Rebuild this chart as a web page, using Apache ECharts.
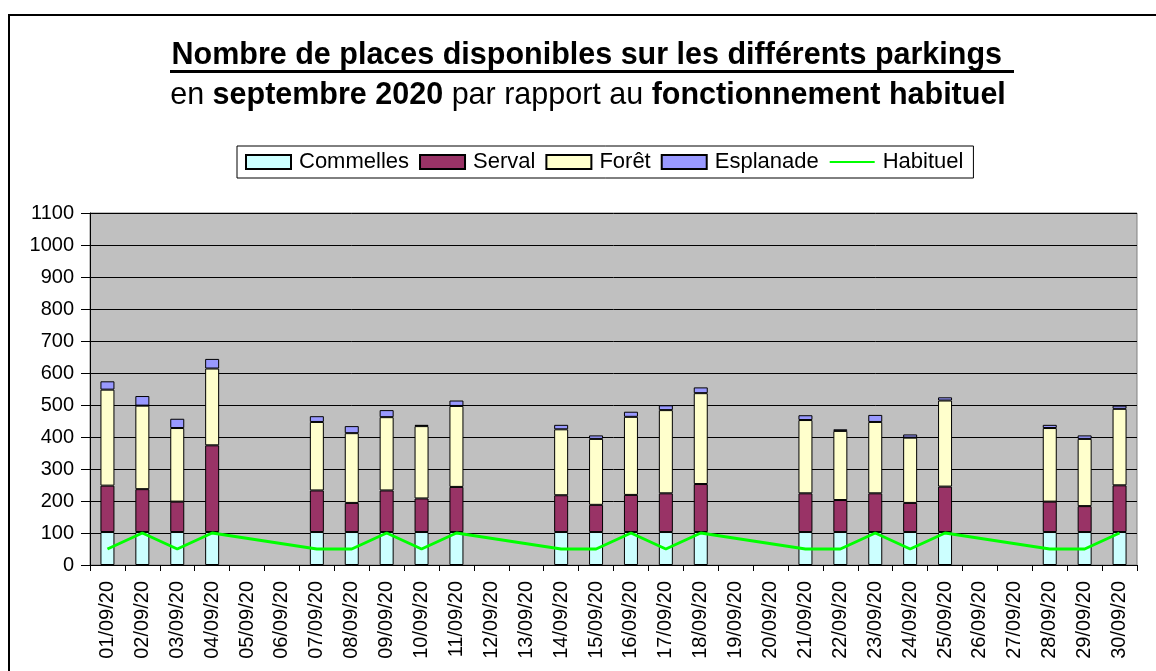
<!DOCTYPE html>
<html>
<head>
<meta charset="utf-8">
<script src="https://cdn.jsdelivr.net/npm/echarts@6/dist/echarts.min.js"></script>
<style>
  html, body { margin: 0; padding: 0; background: #fff; }
  #chart { width: 1156px; height: 671px; }
</style>
</head>
<body>
<div id="chart"></div>
<script>
const days = ['01/09/20', '02/09/20', '03/09/20', '04/09/20', '05/09/20', '06/09/20', '07/09/20', '08/09/20', '09/09/20', '10/09/20',
  '11/09/20', '12/09/20', '13/09/20', '14/09/20', '15/09/20', '16/09/20', '17/09/20', '18/09/20', '19/09/20', '20/09/20',
  '21/09/20', '22/09/20', '23/09/20', '24/09/20', '25/09/20', '26/09/20', '27/09/20', '28/09/20', '29/09/20', '30/09/20']

const commelles = [103, 103, 103, 103, '-', '-', 103, 103, 103, 103, 103, '-', '-', 103, 103, 103, 103, 103, '-', '-',
  103, 103, 103, 103, 103, '-', '-', 103, 103, 103]
const serval = [145, 134, 95, 271, '-', '-', 130, 91, 130, 105, 141, '-', '-', 115, 85, 116, 121, 150, '-', '-',
  121, 100, 121, 91, 142, '-', '-', 95, 81, 146]
const foret = [300, 261, 230, 240, '-', '-', 214, 218, 229, 226, 253, '-', '-', 206, 206, 244, 260, 284, '-', '-',
  229, 216, 223, 204, 269, '-', '-', 230, 210, 239]
const esplanade = [26, 30, 29, 30, '-', '-', 18, 22, 22, 4, 17, '-', '-', 14, 11, 16, 15, 18, '-', '-',
  15, 5, 22, 10, 10, '-', '-', 10, 11, 10]
const habituel = [50, 100, 50, 100, null, null, 50, 50, 100, 50, 100, null, null, 50, 50, 100, 50, 100, null, null,
  50, 50, 100, 50, 100, null, null, 50, 50, 100]

const font = 'Liberation Sans, Arial, sans-serif'
const titleSize = 30.5

function barSeries(name, data, color) {
  return {
    name: name,
    type: 'bar',
    stack: 'parkings',
    barWidth: 14,
    data: data,
    itemStyle: {
      color: color,
      borderColor: '#000',
      borderWidth: 1
    }
  }
}

const chart = echarts.init(document.getElementById('chart'), null, { renderer: 'canvas' })
chart.setOption({
  animation: false,
  backgroundColor: '#fff',
  textStyle: { fontFamily: font, color: '#000' },
  title: [{
    text: 'Nombre de places disponibles sur les différents parkings ',
    left: 591,
    textAlign: 'center',
    top: 40,
    padding: 0,
    textStyle: { fontFamily: font, fontSize: titleSize, fontWeight: 'bold', color: '#000' }
  }, {
    text: '{r|en }{b|septembre 2020}{r| par rapport au }{b|fonctionnement habituel}',
    left: 588,
    textAlign: 'center',
    top: 80,
    padding: 0,
    textStyle: {
      rich: {
        r: { fontFamily: font, fontSize: titleSize, fontWeight: 'normal', color: '#000' },
        b: { fontFamily: font, fontSize: titleSize, fontWeight: 'bold', color: '#000' }
      }
    }
  }],
  graphic: [{
    type: 'rect',
    z: -10,
    silent: true,
    shape: { x: 9, y: 15, width: 1300, height: 800 },
    style: { fill: null, stroke: '#000', lineWidth: 2 }
  }, {
    type: 'line',
    silent: true,
    shape: { x1: 170, y1: 71.5, x2: 1014, y2: 71.5 },
    style: { stroke: '#000', lineWidth: 3 }
  }],
  legend: {
    left: 237,
    top: 146,
    padding: [5, 10, 5, 8],
    itemWidth: 45,
    itemHeight: 14,
    itemGap: 10,
    borderColor: '#000',
    borderWidth: 1,
    backgroundColor: '#fff',
    textStyle: { fontFamily: font, fontSize: 22, color: '#000', padding: [0, 0, 0, 3] },
    data: [
      { name: 'Commelles', icon: 'rect' },
      { name: 'Serval', icon: 'rect' },
      { name: 'Forêt', icon: 'rect' },
      { name: 'Esplanade', icon: 'rect' },
      { name: 'Habituel', itemStyle: { opacity: 0 } }
    ]
  },
  grid: {
    left: 90,
    right: 19,
    top: 213,
    bottom: 106,
    show: true,
    backgroundColor: '#C0C0C0',
    borderColor: '#808080',
    borderWidth: 1
  },
  xAxis: {
    type: 'category',
    data: days,
    boundaryGap: true,
    axisLine: { lineStyle: { color: '#000', width: 1 } },
    axisTick: { show: true, length: 6, lineStyle: { color: '#000' } },
    axisLabel: {
      rotate: 90,
      interval: 0,
      margin: 16,
      fontFamily: font,
      fontSize: 20,
      color: '#000'
    }
  },
  yAxis: {
    type: 'value',
    min: 0,
    max: 1100,
    interval: 100,
    axisLine: { show: true, lineStyle: { color: '#000', width: 1 } },
    axisTick: { show: true, length: 9, lineStyle: { color: '#000' } },
    axisLabel: {
      margin: 16,
      fontFamily: font,
      fontSize: 20,
      color: '#000',
      formatter: (v) => String(v)
    },
    splitLine: { lineStyle: { color: '#000', width: 1 } }
  },
  series: [
    barSeries('Commelles', commelles, '#CCFFFF'),
    barSeries('Serval', serval, '#993366'),
    barSeries('Forêt', foret, '#FFFFCC'),
    barSeries('Esplanade', esplanade, '#9999FF'),
    {
      name: 'Habituel',
      type: 'line',
      data: habituel,
      connectNulls: true,
      symbol: 'none',
      showSymbol: false,
      lineStyle: { color: '#00FF00', width: 3 },
      itemStyle: { color: '#00FF00' },
      z: 5
    }
  ]
})
</script>
</body>
</html>
